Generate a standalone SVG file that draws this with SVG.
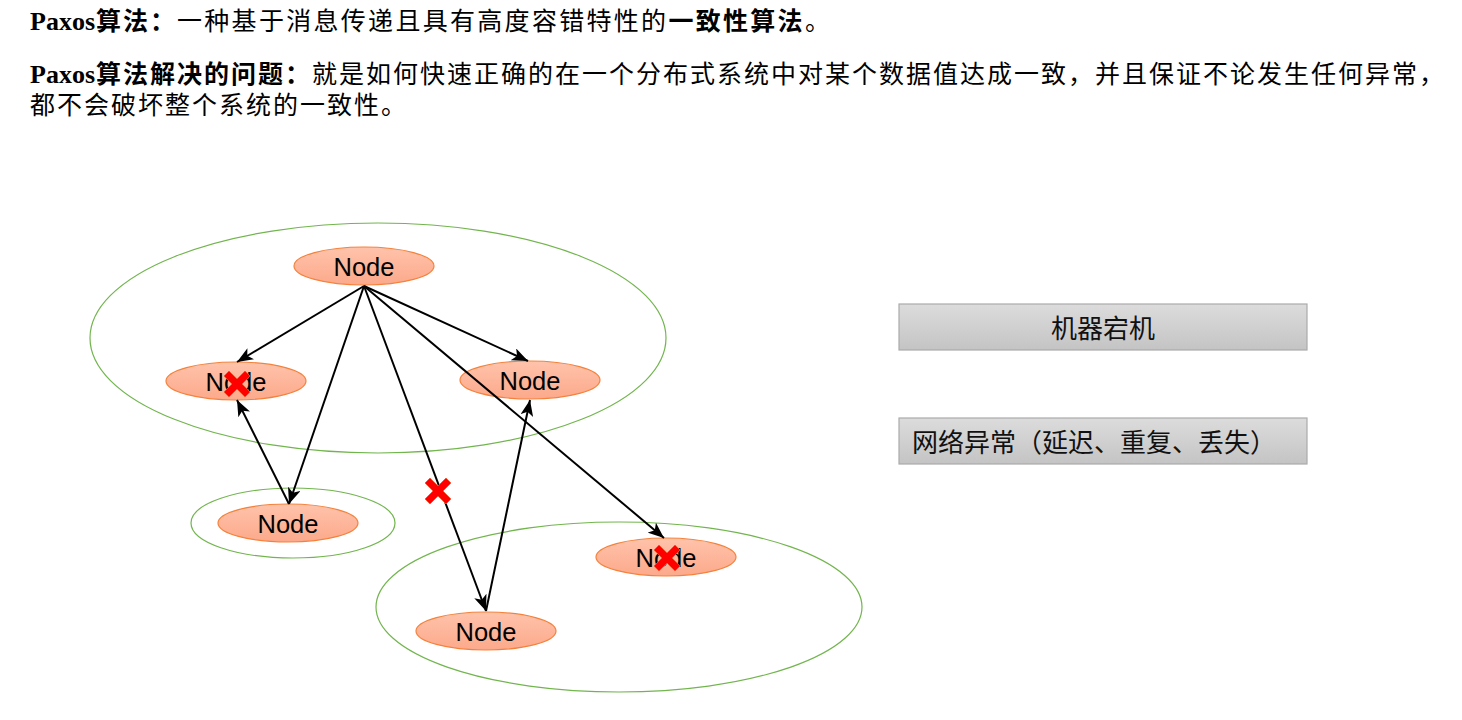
<svg xmlns="http://www.w3.org/2000/svg" width="1462" height="720" viewBox="0 0 1462 720">
<style>
.hdr{font-family:"Liberation Serif","Noto Sans CJK SC",serif;font-size:25px;fill:#000}
.lat{font-size:26px;letter-spacing:0}
.cjk{letter-spacing:2px}
.b{font-weight:700}
.grp{fill:none;stroke:#72b54e;stroke-width:1.2}
.node{fill:url(#ng);stroke:#f5823c;stroke-width:1.2}
.nl{font-family:"Liberation Sans",Arial,sans-serif;font-size:25.5px;fill:#000;text-anchor:middle}
.edge{fill:none;stroke:#000;stroke-width:2;marker-end:url(#arr)}
.box{fill:url(#bg);stroke:#ababab;stroke-width:1.2}
.bl{font-family:"Noto Sans CJK SC","Liberation Sans",sans-serif;font-size:26px;fill:#111}
</style>
<defs>
<linearGradient id="ng" x1="0" y1="0" x2="0" y2="1">
<stop offset="0" stop-color="#ffc3ab"/>
<stop offset="1" stop-color="#fca98b"/>
</linearGradient>
<linearGradient id="bg" x1="0" y1="0" x2="0" y2="1">
<stop offset="0" stop-color="#dcdcdc"/>
<stop offset="1" stop-color="#c4c4c4"/>
</linearGradient>
<marker id="arr" markerUnits="userSpaceOnUse" markerWidth="17" markerHeight="13" refX="16" refY="6.5" orient="auto">
<path d="M0,0 L16,6.5 L0,13 L4,6.5 z" fill="#000"/>
</marker>
<path id="xm" d="M-13,-8 L-8,-13 L0,-5 L8,-13 L13,-8 L5,0 L13,8 L8,13 L0,5 L-8,13 L-13,8 L-5,0 z" fill="#ff0000" stroke="#f2552c" stroke-width="0.8"/>
</defs>
<rect width="1462" height="720" fill="#fff"/>

<g id="header">
<text class="hdr" x="30" y="30"><tspan class="b lat">Paxos</tspan><tspan class="b cjk" x="96">算法：</tspan><tspan class="cjk" style="letter-spacing:2.3px">一种基于消息传递且具有高度容错特性的</tspan><tspan class="b cjk" style="letter-spacing:2.3px">一致性算法</tspan><tspan class="cjk">。</tspan></text>
<text class="hdr" x="30" y="83"><tspan class="b lat">Paxos</tspan><tspan class="b cjk" x="96">算法解决的问题：</tspan><tspan class="cjk">就是如何快速正确的在一个分布式系统中对某个数据值达成一致，并且保证不论发生任何异常，</tspan></text>
<text class="hdr cjk" x="30" y="114">都不会破坏整个系统的一致性。</text>
</g>

<g id="groups">
<ellipse class="grp" cx="378" cy="338" rx="288" ry="115"/>
<ellipse class="grp" cx="293" cy="523" rx="102" ry="35"/>
<ellipse class="grp" cx="619" cy="607" rx="243" ry="85"/>
</g>

<g id="node-top"><ellipse class="node" cx="364" cy="266" rx="70" ry="19"/><text class="nl" x="364" y="276">Node</text></g>
<g id="node-left"><ellipse class="node" cx="236" cy="381" rx="70" ry="19"/><text class="nl" x="236" y="391">Node</text></g>
<g id="node-right"><ellipse class="node" cx="530" cy="380" rx="70" ry="19"/><text class="nl" x="530" y="390">Node</text></g>
<g id="node-mid"><ellipse class="node" cx="288" cy="523" rx="70" ry="19"/><text class="nl" x="288" y="533">Node</text></g>
<g id="node-bottom"><ellipse class="node" cx="486" cy="631" rx="70" ry="19"/><text class="nl" x="486" y="641">Node</text></g>
<g id="node-bottom-right"><ellipse class="node" cx="666" cy="557" rx="70" ry="19"/><text class="nl" x="666" y="567">Node</text></g>

<g id="connectors">
<line class="edge" x1="364" y1="286" x2="237" y2="362"/>
<line class="edge" x1="364" y1="286" x2="289" y2="504"/>
<line class="edge" x1="364" y1="286" x2="528" y2="361"/>
<line class="edge" x1="364" y1="286" x2="664" y2="538"/>
<line class="edge" x1="364" y1="286" x2="486" y2="611"/>
<line class="edge" x1="486" y1="611" x2="530" y2="400"/>
<line class="edge" x1="289" y1="504" x2="237" y2="400"/>
</g>

<g id="failures">
<use href="#xm" x="237" y="384"/>
<use href="#xm" x="667" y="558"/>
<use href="#xm" x="438" y="491"/>
</g>

<g id="legend-crash">
<rect class="box" x="899" y="304" width="408" height="46"/>
<text class="bl" x="1103" y="338" text-anchor="middle">机器宕机</text>
</g>
<g id="legend-network">
<rect class="box" x="899" y="418" width="408" height="46"/>
<text class="bl" x="912" y="452">网络异常（延迟、重复、丢失）</text>
</g>
</svg>
